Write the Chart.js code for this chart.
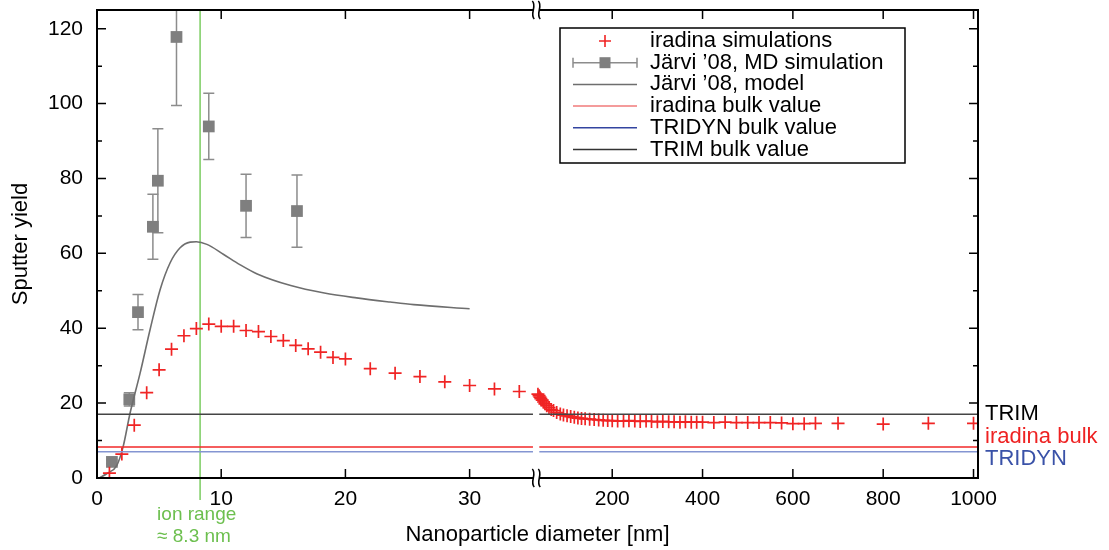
<!DOCTYPE html>
<html><head><meta charset="utf-8">
<script src="https://cdn.jsdelivr.net/npm/chart.js@4/dist/chart.umd.min.js"></script>
<style>html,body{margin:0;padding:0;background:#fff}</style>
</head><body>
<canvas id="c" width="1109" height="550"></canvas>
<script>
const FONT = "'Liberation Sans', Arial, Helvetica, sans-serif";

// ---------- data ----------
const iradinaX = [1,2,3,4,5,6,7,8,9,10,11,12,13,14,15,16,17,18,19,20,22,24,26,28,30,32,34,35.5,
  38,40,42,45,48,51,55,60,65,70,77,85,92,100,108,116,124,132,140,150,160,170,180,190,200,212,225,237,250,262,275,287,300,312,325,337,350,362,375,387,400,
  425,450,475,500,525,550,575,600,625,650,700,800,900,1000];
const iradinaY = [1.3,6.4,14.1,22.8,28.9,34.4,38.0,39.9,41.1,40.5,40.5,39.4,39.1,37.8,36.7,35.4,34.5,33.6,32.2,31.8,29.2,28.0,27.1,25.7,24.7,23.8,23.1,22.4,
  22.0,21.6,21.2,20.8,20.3,19.8,19.3,18.8,18.3,18.0,17.5,17.1,16.8,16.6,16.4,16.2,16.0,15.9,15.8,15.7,15.6,15.5,15.4,15.35,15.3,15.2,15.2,15.3,15.2,15.1,15.2,15.1,15.0,15.1,15.0,15.0,14.9,15.0,14.9,14.9,14.9,
  14.8,14.9,14.8,14.8,14.8,14.8,14.7,14.5,14.5,14.6,14.6,14.4,14.6,14.6];

const jarviX   = [1.2, 2.6, 3.3, 4.5, 4.9, 6.4, 9.0, 12.0, 16.1];
const jarviY   = [4.3, 21.0, 44.3, 67.1, 79.4, 117.8, 93.9, 72.7, 71.3];
const jarviErr = [0.5, 1.8, 4.7, 8.7, 13.9, 18.3, 8.85, 8.45, 9.65];

const modelX = [0.2,0.8,1.6,2.1,2.66,3.47,4.27,5.08,5.89,6.69,7.5,8.0,8.85,10.2,11.5,12.9,15.6,18.3,20.9,23.6,25.5,30.0];
const modelY = [0.0,1.2,3.4,8.3,17.3,28.0,39.6,50.3,57.5,61.5,63.0,63.1,62.4,59.7,57.0,54.5,51.4,49.4,48.1,47.0,46.3,45.2];

const trimBulk = 17.0;
const iradinaBulk = 8.3;
const tridynBulk = 7.0;
const ionRange = 8.3;

const xTickValues = [0,10,20,30,200,400,600,800,1000];
const yTickValues = [0,20,40,60,80,100,120];
const yMinorValues = [10,30,50,70,90,110];

const legendLabels = ["iradina simulations","Järvi ’08, MD simulation","Järvi ’08, model","iradina bulk value","TRIDYN bulk value","TRIM bulk value"];

// ---------- broken axis transform ----------
const xBreak = 35.5, xRatio = 0.03636, xMaxU = 70.93;
function toU(x){ return x <= xBreak ? x : xBreak + (x - xBreak) * xRatio; }
function pts(xs, ys){ return xs.map((x,i)=>({x: toU(x), y: ys[i]})); }
function hline(v){ return [{x:toU(0),y:v},{x:toU(35.1),y:v},{x:toU(36.5),y:null},{x:toU(38.5),y:v},{x:toU(1010),y:v}]; }

const COL = {red:'#f02424', gray:'#7f7f7f', model:'#6e6e6e', trim:'#444444', irBulk:'#f22a2a', tridyn:'#8495d2', green:'#7ccd62'};

const overlay = {
  id:'overlay',
  beforeDatasetsDraw(chart){
    const {ctx, chartArea:a, scales:{x, y}} = chart;
    ctx.save();
    ctx.beginPath(); ctx.rect(a.left, a.top, a.right-a.left, a.bottom-a.top); ctx.clip();
    ctx.strokeStyle = '#8c8c8c'; ctx.lineWidth = 1.5;
    jarviX.forEach((xv,i)=>{
      const px = x.getPixelForValue(toU(xv));
      const p1 = y.getPixelForValue(jarviY[i]-jarviErr[i]);
      const p2 = y.getPixelForValue(jarviY[i]+jarviErr[i]);
      ctx.beginPath();
      ctx.moveTo(px,p1); ctx.lineTo(px,p2);
      ctx.moveTo(px-5.5,p1); ctx.lineTo(px+5.5,p1);
      ctx.moveTo(px-5.5,p2); ctx.lineTo(px+5.5,p2);
      ctx.stroke();
    });
    ctx.restore();
  },
  afterDraw(chart){
    const {ctx, chartArea:a, scales:{x, y}} = chart;
    ctx.save();
    const gL = 533.3, gR = 539.3;
    // frame
    ctx.strokeStyle = '#000'; ctx.lineWidth = 2; ctx.lineCap = 'butt';
    ctx.beginPath();
    ctx.moveTo(a.left, a.top); ctx.lineTo(a.left, a.bottom);
    ctx.moveTo(a.right, a.top); ctx.lineTo(a.right, a.bottom);
    ctx.moveTo(a.left-1, a.top); ctx.lineTo(gL, a.top);
    ctx.moveTo(gR, a.top); ctx.lineTo(a.right+1, a.top);
    ctx.moveTo(a.left-1, a.bottom); ctx.lineTo(gL, a.bottom);
    ctx.moveTo(gR, a.bottom); ctx.lineTo(a.right+1, a.bottom);
    ctx.stroke();
    // break marks
    ctx.lineWidth = 1.6;
    [a.top, a.bottom].forEach(yy=>{
      [gL, gR].forEach(xx=>{
        ctx.beginPath();
        ctx.moveTo(xx-1, yy-9);
        ctx.bezierCurveTo(xx+4, yy-4, xx-4, yy+4, xx+1, yy+9);
        ctx.stroke();
      });
    });
    // ticks
    ctx.lineWidth = 1.5;
    ctx.beginPath();
    xTickValues.forEach(v=>{
      const px = x.getPixelForValue(toU(v));
      ctx.moveTo(px, a.bottom); ctx.lineTo(px, a.bottom-9);
      ctx.moveTo(px, a.top); ctx.lineTo(px, a.top+9);
    });
    yTickValues.forEach(v=>{
      const py = y.getPixelForValue(v);
      ctx.moveTo(a.left, py); ctx.lineTo(a.left+9, py);
      ctx.moveTo(a.right, py); ctx.lineTo(a.right-9, py);
    });
    yMinorValues.forEach(v=>{
      const py = y.getPixelForValue(v);
      ctx.moveTo(a.left, py); ctx.lineTo(a.left+5, py);
      ctx.moveTo(a.right, py); ctx.lineTo(a.right-5, py);
    });
    ctx.stroke();

    // green labels
    const gx = x.getPixelForValue(toU(ionRange));
    ctx.fillStyle = '#6cbf4e';
    ctx.font = '19px ' + FONT;
    ctx.textAlign = 'left'; ctx.textBaseline = 'middle';
    ctx.fillText('ion range', gx-43, 515);
    ctx.fillText('≈ 8.3 nm', gx-43, 537);

    // right labels
    ctx.font = '22px ' + FONT;
    ctx.fillStyle = '#000'; ctx.fillText('TRIM', a.right+7, y.getPixelForValue(trimBulk));
    ctx.fillStyle = '#ee2222'; ctx.fillText('iradina bulk', a.right+7, 437);
    ctx.fillStyle = '#3a52a8'; ctx.fillText('TRIDYN', a.right+7, 459);

    // legend
    const L = {x0:560, y0:28, x1:905, y1:163};
    ctx.fillStyle = '#fff';
    ctx.fillRect(L.x0, L.y0, L.x1-L.x0, L.y1-L.y0);
    ctx.strokeStyle = '#000'; ctx.lineWidth = 1.5;
    ctx.strokeRect(L.x0, L.y0, L.x1-L.x0, L.y1-L.y0);
    const rows = [41, 62.7, 84.4, 106.1, 127.8, 149.5];
    const s0 = 573, s1 = 637, sc = 605;
    ctx.strokeStyle = COL.red; ctx.lineWidth = 1.6;
    ctx.beginPath(); ctx.moveTo(sc-6, rows[0]); ctx.lineTo(sc+6, rows[0]); ctx.moveTo(sc, rows[0]-6); ctx.lineTo(sc, rows[0]+6); ctx.stroke();
    ctx.strokeStyle = '#8c8c8c'; ctx.lineWidth = 1.5;
    ctx.beginPath(); ctx.moveTo(s0, rows[1]); ctx.lineTo(s1, rows[1]);
    ctx.moveTo(s0, rows[1]-5); ctx.lineTo(s0, rows[1]+5); ctx.moveTo(s1, rows[1]-5); ctx.lineTo(s1, rows[1]+5); ctx.stroke();
    ctx.fillStyle = COL.gray; ctx.fillRect(sc-5.5, rows[1]-5.5, 11, 11);
    const lineCols = [null, null, COL.model, '#f07a7a', '#3344a0', '#333333'];
    for (let i=2;i<6;i++){
      ctx.strokeStyle = lineCols[i]; ctx.lineWidth = 1.5;
      ctx.beginPath(); ctx.moveTo(s0, rows[i]); ctx.lineTo(s1, rows[i]); ctx.stroke();
    }
    ctx.fillStyle = '#000'; ctx.font = '22px ' + FONT; ctx.textAlign='left'; ctx.textBaseline='middle';
    legendLabels.forEach((t,i)=> ctx.fillText(t, 650, rows[i]));
    ctx.restore();
  }
};

new Chart(document.getElementById('c'), {
  type: 'scatter',
  data: {
    datasets: [
      {label:'TRIM bulk value', data: hline(trimBulk), showLine:true, pointRadius:0, borderColor:COL.trim, borderWidth:1.5, spanGaps:false},
      {label:'iradina bulk value', data: hline(iradinaBulk), showLine:true, pointRadius:0, borderColor:COL.irBulk, borderWidth:1.5, spanGaps:false},
      {label:'TRIDYN bulk value', data: hline(tridynBulk), showLine:true, pointRadius:0, borderColor:COL.tridyn, borderWidth:1.5, spanGaps:false},
      {label:'iradina simulations', data: pts(iradinaX, iradinaY), showLine:false, pointStyle:'cross', pointRadius:6.5, borderColor:COL.red, backgroundColor:COL.red, borderWidth:1.7},
      {label:'Järvi model', data: pts(modelX, modelY), showLine:true, pointRadius:0, borderColor:COL.model, borderWidth:1.6, cubicInterpolationMode:'monotone'},
      {label:'Järvi MD simulation', data: pts(jarviX, jarviY), showLine:false, pointStyle:'rect', pointRadius:8.3, backgroundColor:COL.gray, borderColor:COL.gray, borderWidth:0},
      {label:'ion range', data: [{x:toU(ionRange), y:125}, {x:toU(ionRange), y:-5.9}], showLine:true, pointRadius:0, borderColor:COL.green, borderWidth:1.5, clip:false}
    ]
  },
  options: {
    responsive:false, animation:false, events:[],
    layout:{padding:{left:0, top:10, right:131, bottom:0}},
    plugins:{legend:{display:false}, tooltip:{enabled:false}},
    scales:{
      x:{
        type:'linear', min:0, max:xMaxU,
        grid:{display:false, drawTicks:false}, border:{display:false},
        afterBuildTicks:(s)=>{ s.ticks = xTickValues.map(v=>({value: toU(v)})); },
        afterFit:(s)=>{ s.height = 72; s.paddingLeft = 0; s.paddingRight = 0; },
        ticks:{ autoSkip:false, maxRotation:0, padding:9, color:'#000', font:{family:FONT, size:21},
          callback:(v,i)=> String(xTickValues[i]) },
        title:{display:true, text:'Nanoparticle diameter [nm]', color:'#000', font:{family:FONT, size:22}, padding:{top:0,bottom:2}}
      },
      y:{
        type:'linear', min:0, max:125,
        grid:{display:false, drawTicks:false}, border:{display:false},
        afterBuildTicks:(s)=>{ s.ticks = yTickValues.map(v=>({value:v})); },
        afterFit:(s)=>{ s.width = 97; s.paddingTop = 0; s.paddingBottom = 0; },
        ticks:{ padding:14, color:'#000', font:{family:FONT, size:21}, callback:(v)=>String(v) },
        title:{display:true, text:'Sputter yield', color:'#000', font:{family:FONT, size:22}, padding:{top:8,bottom:0}}
      }
    }
  },
  plugins:[overlay]
});
</script>
</body></html>
